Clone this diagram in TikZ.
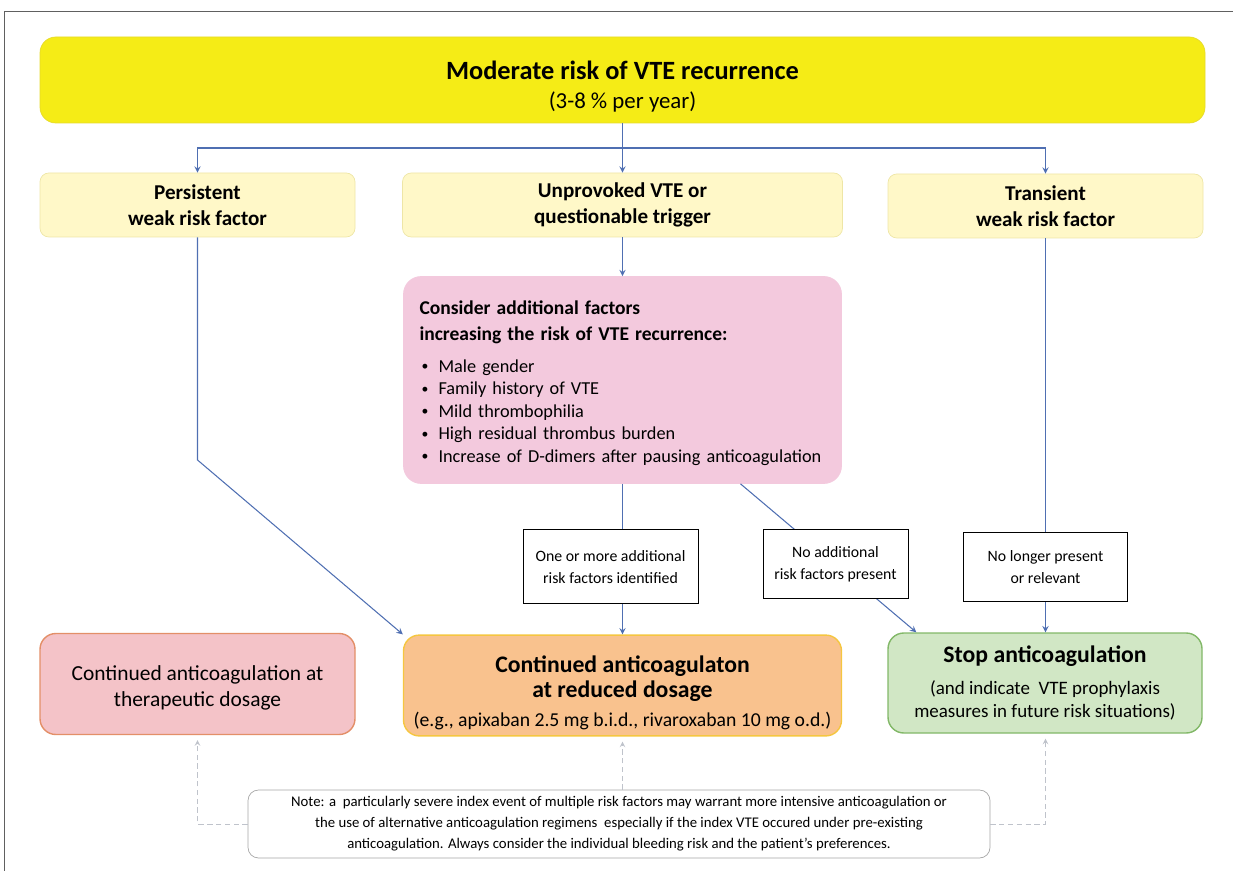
\documentclass[tikz,border=0pt]{standalone}
\usepackage{fontspec}
\setmainfont{Carlito}
\usetikzlibrary{arrows, positioning}

\definecolor{topyellow}{HTML}{F5EC16}
\definecolor{topyellowline}{HTML}{E6DA2A}
\definecolor{paleyellow}{HTML}{FFF8C8}
\definecolor{paleyellowline}{HTML}{EEE6A6}
\definecolor{factorpink}{HTML}{F3C9DD}
\definecolor{fullred}{HTML}{F4C3C8}
\definecolor{fullredline}{HTML}{E38F68}
\definecolor{reducedorange}{HTML}{F9C28E}
\definecolor{reducedline}{HTML}{F5C640}
\definecolor{stopgreen}{HTML}{D1E7C5}
\definecolor{stopgreenline}{HTML}{82B868}
\definecolor{arrowblue}{HTML}{4F6FB2}
\definecolor{hintgray}{HTML}{BFC3CB}
\definecolor{framegray}{HTML}{606060}

\tikzstyle{headbox} = [rectangle, rounded corners=9pt,
minimum width=23.3cm,
minimum height=1.72cm,
align=center,
draw=topyellowline,
fill=topyellow]
\tikzstyle{riskbox} = [rectangle, rounded corners=5pt,
minimum height=1.28cm,
align=center,
draw=paleyellowline,
fill=paleyellow,
font=\fontsize{12}{14.5}\selectfont\bfseries]
\tikzstyle{factorbox} = [rectangle, rounded corners=10pt,
minimum width=8.76cm,
minimum height=4.14cm,
text width=8.12cm,
inner xsep=0.32cm,
align=left,
draw=factorpink,
fill=factorpink,
font=\fontsize{10.4}{12.8}\selectfont]
\tikzstyle{labelbox} = [rectangle,
minimum height=1.4cm,
align=center,
draw=black,
thin,
fill=white,
font=\fontsize{9}{12.5}\selectfont]
\tikzstyle{outcome} = [rectangle, rounded corners=9pt,
minimum width=6.3cm,
minimum height=2.02cm,
align=center,
thick]
\tikzstyle{notebox} = [rectangle, rounded corners=6pt,
minimum width=14.84cm,
minimum height=1.36cm,
align=center,
draw=gray!70,
fill=white,
font=\fontsize{8.4}{12}\selectfont]
\tikzstyle{arrow} = [semithick, draw=arrowblue, ->, >=stealth]
\tikzstyle{hint} = [densely dashed, draw=hintgray, ->, >=stealth, shorten >=0.1cm]

\newcommand{\itm}{\hspace{0.04cm}\makebox[0.34cm][l]{\raisebox{0.15ex}{\scalebox{0.75}{\textbullet}}}}
\newcommand{\outhead}[1]{{\fontsize{13.5}{16}\selectfont\bfseries #1}}

\begin{document}
\begin{tikzpicture}
\useasboundingbox (0,0) rectangle (24.66,-17.42);
\draw [framegray] (0.08,-17.42) -- (0.08,-0.22) -- (24.66,-0.22);

% Nodes
\node (moderate) [headbox, font=\fontsize{13}{17}\selectfont] at (12.45,-1.6)
{\rule{0pt}{18pt}{\fontsize{15}{17}\selectfont\bfseries Moderate risk of VTE recurrence}\\(3-8 \% per year)};

\node (unprovoked) [riskbox, minimum width=8.8cm] at (12.45,-4.1) {Unprovoked VTE or\\questionable trigger};
\node (persistent) [riskbox, minimum width=6.3cm] at (3.95,-4.1) {Persistent\\weak risk factor};
\node (transient) [riskbox, minimum width=6.3cm] at (20.91,-4.12) {Transient\\weak risk factor};

\node (consider) [factorbox] at (12.45,-7.6)
{\rule{0pt}{11pt}{\fontsize{11.1}{14.2}\selectfont\bfseries Consider additional factors\\[2.5pt]increasing the risk of VTE recurrence:}\\[5pt]
\itm Male gender\\
\itm Family history of VTE\\
\itm Mild thrombophilia\\
\itm High residual thrombus burden\\
\itm Increase of D-dimers after pausing anticoagulation};

\node (continued) [outcome, draw=fullredline, fill=fullred, font=\fontsize{12.2}{14.5}\selectfont] at (3.95,-13.68)
{\rule{0pt}{13pt}Continued anticoagulation at\\therapeutic dosage};

\node (reduced) [outcome, minimum width=8.76cm, minimum height=1.98cm, draw=reducedline, fill=reducedorange, font=\fontsize{11.2}{14.4}\selectfont] at (12.45,-13.71)
{\rule{0pt}{18pt}\outhead{Continued anticoagulaton}\\\outhead{at reduced dosage}\\[2pt](e.g., apixaban 2.5 mg b.i.d., rivaroxaban 10 mg o.d.)};

\node (stop) [outcome, minimum width=6.28cm, minimum height=2.0cm, draw=stopgreenline, fill=stopgreen, font=\fontsize{10.8}{13}\selectfont] at (20.9,-13.66)
{\outhead{Stop anticoagulation}\\[5pt](and indicate\ \ VTE prophylaxis\\measures in future risk situations)};

\node (note) [notebox] at (12.38,-16.48)
{Note: a\ \ particularly severe index event of multiple risk factors may warrant more intensive anticoagulation or\\
the use of alternative anticoagulation regimens\ \ especially if the index VTE occured under pre-existing\\
anticoagulation. Always consider the individual bleeding risk and the patient's preferences.};

\coordinate (split) at (12.45,-2.96);
\coordinate (bendA) at (3.95,-9.2);

% Connections
\draw [arrow] (moderate.south) -- (unprovoked.north);
\draw [arrow] (split) -| (persistent.north);
\draw [arrow] (split) -| (transient.north);
\draw [arrow] (unprovoked.south) -- (consider.north);

\draw [arrow] (persistent.south) -- (bendA) -- (reduced.north west);

\draw [arrow] (consider.south) -- node[labelbox, pos=0.55, xshift=-0.24cm, minimum width=3.5cm, minimum height=1.48cm] (identified) {One or more additional\\risk factors identified} (reduced.north);

\draw [arrow] ([xshift=2.36cm]consider.south) -- node[labelbox, pos=0.54, minimum width=2.9cm, minimum height=1.38cm] (absent) {No additional\\risk factors present} ([xshift=0.58cm]stop.north west);

\draw [arrow] (transient.south) -- node[labelbox, pos=0.834, minimum width=3.28cm, minimum height=1.38cm] (relevant) {No longer present\\or relevant} (transient.south |- stop.north);

\draw [hint] (note.west) -| (continued.south);
\draw [hint] (reduced.south |- note.north) -- (reduced.south);
\draw [hint] (note.east) -| (stop.south -| transient.south);

\end{tikzpicture}
\end{document}
